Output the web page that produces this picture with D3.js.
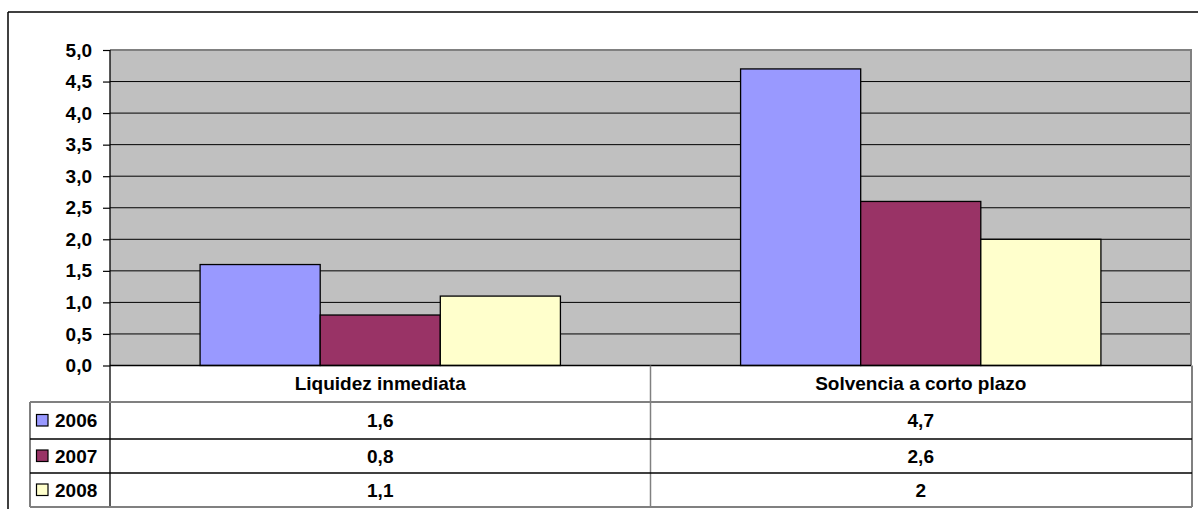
<!DOCTYPE html>
<html>
<head>
<meta charset="utf-8">
<script src="https://cdn.jsdelivr.net/npm/d3@7"></script>
<style>
  body { margin: 0; background: #fff; }
  text { font-family: Arial, "Liberation Sans", sans-serif; font-weight: bold; font-size: 19px; fill: #000; }
</style>
</head>
<body>
<script>
var categories = ["Liquidez inmediata", "Solvencia a corto plazo"];
var series = ["2006", "2007", "2008"];
var values2006 = [1.6, 4.7];
var values2007 = [0.8, 2.6];
var values2008 = [1.1, 2];
var colors = ["#9999FF", "#993366", "#FFFFCC"];
var yTicks = [0, 0.5, 1, 1.5, 2, 2.5, 3, 3.5, 4, 4.5, 5];

var allValues = [values2006, values2007, values2008];
var rows = series.map(function (s, i) {
  return { name: s, color: colors[i], values: allValues[i] };
});

var width = 1198, height = 509;
var plotLeft = 110, plotRight = 1191, plotTop = 50, plotBottom = 365.5;
var tableLeft = 30, tableRight = 1192;
var rowTops = [402, 439, 473, 507];

var comma = d3.formatLocale({ decimal: ",", thousands: ".", grouping: [3], currency: ["", ""] });
var tickFmt = comma.format(".1f");
function valFmt(v) { return String(v).replace(".", ","); }

var svg = d3.select("body").append("svg")
    .attr("width", width)
    .attr("height", height);

// outer frame
svg.append("line").attr("x1", 8).attr("x2", width).attr("y1", 12).attr("y2", 12)
    .attr("stroke", "#000").attr("stroke-width", 1.5);
svg.append("line").attr("x1", 8).attr("x2", 8).attr("y1", 12).attr("y2", height)
    .attr("stroke", "#000").attr("stroke-width", 1.5);

var y = d3.scaleLinear().domain([0, 5]).range([plotBottom, plotTop]);
var x0 = d3.scaleBand().domain(categories).range([plotLeft, plotRight]);
var x1 = d3.scaleBand().domain(series).range([0, x0.bandwidth()]).paddingOuter(0.75);

// plot background
svg.append("rect")
    .attr("x", plotLeft).attr("y", plotTop)
    .attr("width", plotRight - plotLeft).attr("height", plotBottom - plotTop)
    .attr("fill", "#C0C0C0");

// gridlines
svg.selectAll(".grid")
    .data(yTicks.slice(1, -1))
    .enter()
    .append("line")
    .attr("x1", plotLeft).attr("x2", plotRight)
    .attr("y1", function (d) { return y(d); })
    .attr("y2", function (d) { return y(d); })
    .attr("stroke", "#000").attr("stroke-width", 1);

// plot border (top and right)
svg.append("path")
    .attr("d", "M" + plotLeft + "," + plotTop + "H" + plotRight + "V" + plotBottom)
    .attr("fill", "none").attr("stroke", "#808080").attr("stroke-width", 2);

// bars
var groups = svg.selectAll(".grp")
    .data(categories)
    .enter()
    .append("g")
    .attr("transform", function (d) { return "translate(" + x0(d) + ",0)"; });

groups.selectAll("rect")
    .data(function (c, ci) {
      return rows.map(function (r) { return { s: r.name, v: r.values[ci], color: r.color }; });
    })
    .enter()
    .append("rect")
    .attr("x", function (d) { return x1(d.s); })
    .attr("width", x1.bandwidth())
    .attr("y", function (d) { return y(d.v); })
    .attr("height", function (d) { return y(0) - y(d.v); })
    .attr("fill", function (d) { return d.color; })
    .attr("stroke", "#000").attr("stroke-width", 1.3);

// y axis
var yAxis = svg.append("g")
    .attr("transform", "translate(" + plotLeft + ",0)")
    .call(d3.axisLeft(y).tickValues(yTicks).tickFormat(tickFmt).tickSize(7).tickPadding(11));
yAxis.select(".domain").remove();
yAxis.selectAll(".tick line").attr("stroke", "#000").attr("stroke-width", 1.2);
yAxis.selectAll(".tick text")
    .style("font-size", "19px").style("font-family", "Arial, 'Liberation Sans', sans-serif")
    .style("font-weight", "bold").attr("fill", "#000");

// category axis line and vertical lines through table
svg.append("line").attr("x1", plotLeft).attr("x2", plotRight).attr("y1", plotBottom).attr("y2", plotBottom)
    .attr("stroke", "#000").attr("stroke-width", 1.5);
svg.append("line").attr("x1", plotLeft).attr("x2", plotLeft).attr("y1", plotTop).attr("y2", rowTops[3])
    .attr("stroke", "#000").attr("stroke-width", 1.3);
svg.append("line").attr("x1", x0(categories[1])).attr("x2", x0(categories[1]))
    .attr("y1", plotBottom).attr("y2", rowTops[3])
    .attr("stroke", "#808080").attr("stroke-width", 1.5);
svg.append("line").attr("x1", tableRight).attr("x2", tableRight)
    .attr("y1", plotBottom).attr("y2", rowTops[3])
    .attr("stroke", "#808080").attr("stroke-width", 2);
svg.append("line").attr("x1", tableLeft).attr("x2", tableLeft)
    .attr("y1", rowTops[0]).attr("y2", rowTops[3])
    .attr("stroke", "#555").attr("stroke-width", 1.5);

// table row lines
svg.selectAll(".rowline")
    .data(rowTops)
    .enter()
    .append("line")
    .attr("x1", tableLeft).attr("x2", tableRight)
    .attr("y1", function (d) { return d; })
    .attr("y2", function (d) { return d; })
    .attr("stroke", function (d, i) { return (i === 0 || i === 3) ? "#808080" : "#000"; })
    .attr("stroke-width", function (d, i) { return (i === 0 || i === 3) ? 2 : 1.3; });

// category labels
svg.selectAll(".catlabel")
    .data(categories)
    .enter()
    .append("text")
    .attr("x", function (d) { return x0(d) + x0.bandwidth() / 2; })
    .attr("y", (plotBottom + rowTops[0]) / 2)
    .attr("dy", "0.35em")
    .attr("text-anchor", "middle")
    .text(function (d) { return d; });

// legend keys and series names
var rowG = svg.selectAll(".row")
    .data(rows)
    .enter()
    .append("g")
    .attr("transform", function (d, i) { return "translate(0," + (rowTops[i] + rowTops[i + 1]) / 2 + ")"; });

rowG.append("rect")
    .attr("x", 36.5).attr("y", -6)
    .attr("width", 11.5).attr("height", 11.5)
    .attr("fill", function (d) { return d.color; })
    .attr("stroke", "#000").attr("stroke-width", 1.2);

rowG.append("text")
    .attr("x", 55).attr("dy", "0.35em")
    .text(function (d) { return d.name; });

rowG.selectAll(".val")
    .data(function (d) { return d.values; })
    .enter()
    .append("text")
    .attr("x", function (v, ci) { return x0(categories[ci]) + x0.bandwidth() / 2; })
    .attr("dy", "0.35em")
    .attr("text-anchor", "middle")
    .text(function (v) { return valFmt(v); });
</script>
</body>
</html>
